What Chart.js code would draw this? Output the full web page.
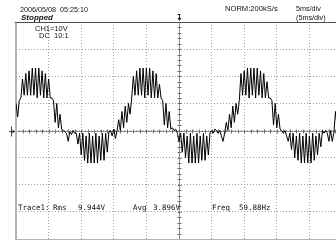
<!DOCTYPE html>
<html>
<head>
<meta charset="utf-8">
<script src="https://cdn.jsdelivr.net/npm/chart.js@4"></script>
<style>
  html, body { margin: 0; padding: 0; background: #fff; overflow: hidden; }
  #scope { position: relative; width: 336px; height: 240px; overflow: hidden; }
  #scope canvas { position: absolute; left: 0; top: 0; }
  .lbl { position: absolute; white-space: pre; color: #111; font-family: "Liberation Sans", Arial, sans-serif; }
  .mono { font-family: "DejaVu Sans Mono", monospace; font-size: 7.5px; line-height: 7.5px; }
</style>
</head>
<body>
<div id="scope">
  <canvas id="scopeChart" width="342" height="240"></canvas>
  <div class="lbl" style="left:20px;top:6px;font-size:7.2px;line-height:7.2px;">2006/05/08  05:25:10</div>
  <div class="lbl" style="left:21px;top:14px;font-size:8px;line-height:8px;font-weight:bold;font-style:italic;">Stopped</div>
  <div class="lbl" style="left:35px;top:25px;font-size:7.5px;line-height:7.5px;">CH1=10V</div>
  <div class="lbl" style="left:39px;top:32px;font-size:7.5px;line-height:7.5px;">DC  10:1</div>
  <div class="lbl" style="left:225px;top:5px;font-size:7.6px;line-height:7.6px;">NORM:200kS/s</div>
  <div class="lbl" style="left:296px;top:5px;font-size:7.2px;line-height:7.2px;">5ms/div</div>
  <div class="lbl" style="left:296px;top:14px;font-size:7.2px;line-height:7.2px;">(5ms/div)</div>
  <div class="lbl mono" style="left:18px;top:204px;">Trace1:</div>
  <div class="lbl mono" style="left:53px;top:204px;">Rms</div>
  <div class="lbl mono" style="left:78px;top:204px;">9.944V</div>
  <div class="lbl mono" style="left:133px;top:204px;">Avg</div>
  <div class="lbl mono" style="left:153px;top:204px;">3.896V</div>
  <div class="lbl mono" style="left:212px;top:204px;">Freq</div>
  <div class="lbl mono" style="left:239px;top:204px;">59.88Hz</div>
</div>
<script>
// --- scope settings ---
const timePerDiv = 5;      // ms/div
const voltsPerDiv = 10;    // V/div
const sampleStep = 0.25;   // ms between samples

// --- CH1 samples (V), one every 0.25 ms ---
const ch1Volts = [
  10, 5, 11, 12, 19, 13, 21, 13, 22, 13, 23, 13, 23, 12, 23, 13, 22, 12, 21, 12,
  19, 12, 12, 11, 3, 10, 1, 6, 0.5, 0, -0.5, -1, -4, -0.5, -1.5, 0, -1, -1, -5, -1,
  -9, -1, -11, -2, -12, -1, -12, -2, -12, -1, -12, -2, -11, -1, -11, -1, -8, -0.5, 0, -2,
  0.5, -3, 0, 4, 0, 7, 1, 9, 3, 10, 6, 12, 20, 13, 22, 13, 23, 13, 23, 12,
  23, 13, 23, 12, 22, 12, 21, 12, 17, 12, 11, 2, 10, 1, 7, 0.5, 1, 0, 0.5, -1,
  -4, -1, -8, -1, -10, -2, -12, -1, -12, -2, -12, -1, -12, -2, -11, -1, -11, -2, -9, -1,
  0, -1, 0.5, 0, -1, 0, -2, -4, -1, 3, 0, 6, 1, 9, 3, 10, 6, 11, 21, 13,
  22, 13, 23, 12, 23, 13, 23, 12, 23, 13, 22, 12, 21, 12, 18, 12, 12, 11, 2, 10,
  1, 6, 0.5, 0, -1, 0, -2, -4, -1, -7, -1, -10, -2, -11, -1, -12, -2, -12, -1, -12,
  -2, -12, -1, -11, -2, -9, -1, -6, 0, -1, 0, -1, -4, 0, -4, -1, 7, 1, 9, 3,
  10
];

const points = ch1Volts.map((v, i) => ({ x: i * sampleStep, y: v }));

const gridGray = '#a0a0a0';
const axisGray = '#8c8c8c';

// frame, centre cross with minor ticks, trigger and ground markers
const scopeFrame = {
  id: 'scopeFrame',
  beforeDatasetsDraw(chart) {
    const { ctx, chartArea: a, scales: { x, y } } = chart;
    const cx = Math.round(x.getPixelForValue(5 * timePerDiv)) + 0.5;
    const cy = Math.round(y.getPixelForValue(0)) + 0.5;
    ctx.save();
    ctx.lineWidth = 1;
    ctx.strokeStyle = axisGray;
    ctx.beginPath();
    ctx.moveTo(a.left, cy); ctx.lineTo(a.right, cy);
    ctx.moveTo(cx, a.top); ctx.lineTo(cx, a.bottom);
    ctx.stroke();
    ctx.strokeStyle = '#707070';
    ctx.beginPath();
    for (let t = 0; t <= 10 * timePerDiv; t += timePerDiv / 5) {
      const px = Math.round(x.getPixelForValue(t)) + 0.5;
      ctx.moveTo(px, cy - 2); ctx.lineTo(px, cy + 2);
    }
    for (let v = -4 * voltsPerDiv; v <= 4 * voltsPerDiv; v += voltsPerDiv / 5) {
      const py = Math.round(y.getPixelForValue(v)) + 0.5;
      ctx.moveTo(cx - 2, py); ctx.lineTo(cx + 2, py);
    }
    ctx.stroke();
    // outer frame
    ctx.strokeStyle = '#b4b4b4';
    ctx.lineWidth = 2;
    ctx.beginPath();
    ctx.moveTo(a.left, a.top); ctx.lineTo(a.left, 240);
    ctx.stroke();
    ctx.lineWidth = 1;
    ctx.beginPath();
    ctx.moveTo(a.left, a.bottom + 0.5); ctx.lineTo(a.right, a.bottom + 0.5);
    ctx.stroke();
    ctx.strokeStyle = '#505050';
    ctx.beginPath();
    ctx.moveTo(a.left - 1, a.top + 0.5); ctx.lineTo(a.right, a.top + 0.5);
    ctx.stroke();
    // trigger position marker
    ctx.strokeStyle = '#222';
    ctx.fillStyle = '#222';
    ctx.beginPath();
    ctx.moveTo(cx - 2, 14.5); ctx.lineTo(cx + 1, 14.5);
    ctx.moveTo(cx, 14); ctx.lineTo(cx, 19);
    ctx.stroke();
    ctx.beginPath();
    ctx.moveTo(cx - 2, 18); ctx.lineTo(cx + 2, 18); ctx.lineTo(cx, 21); ctx.closePath();
    ctx.fill();
    // ground marker for CH1
    ctx.strokeStyle = '#444';
    ctx.beginPath();
    ctx.moveTo(9, cy); ctx.lineTo(14, cy);
    ctx.moveTo(11.5, cy - 5); ctx.lineTo(11.5, cy + 5);
    ctx.stroke();
    ctx.beginPath();
    ctx.moveTo(15, cy); ctx.lineTo(12.5, cy - 2); ctx.lineTo(12.5, cy + 2); ctx.closePath();
    ctx.fill();
    ctx.restore();
  }
};

new Chart(document.getElementById('scopeChart').getContext('2d'), {
  type: 'line',
  data: {
    datasets: [{
      data: points,
      borderColor: '#000',
      borderWidth: 1,
      pointRadius: 0,
      tension: 0,
      fill: false
    }]
  },
  options: {
    responsive: false,
    animation: false,
    devicePixelRatio: 1,
    layout: { padding: { left: 16, top: 22, right: 0, bottom: 1 } },
    scales: {
      x: {
        type: 'linear',
        min: 0,
        max: 10 * timePerDiv,
        ticks: { display: false, stepSize: timePerDiv },
        grid: { color: gridGray, lineWidth: 1, drawTicks: false },
        border: { display: false, dash: [1, 2] }
      },
      y: {
        min: -4 * voltsPerDiv,
        max: 4 * voltsPerDiv,
        ticks: { display: false, stepSize: voltsPerDiv },
        grid: { color: gridGray, lineWidth: 1, drawTicks: false },
        border: { display: false, dash: [1, 2] }
      }
    },
    plugins: {
      legend: { display: false },
      tooltip: { enabled: false }
    }
  },
  plugins: [scopeFrame]
});
</script>
</body>
</html>
